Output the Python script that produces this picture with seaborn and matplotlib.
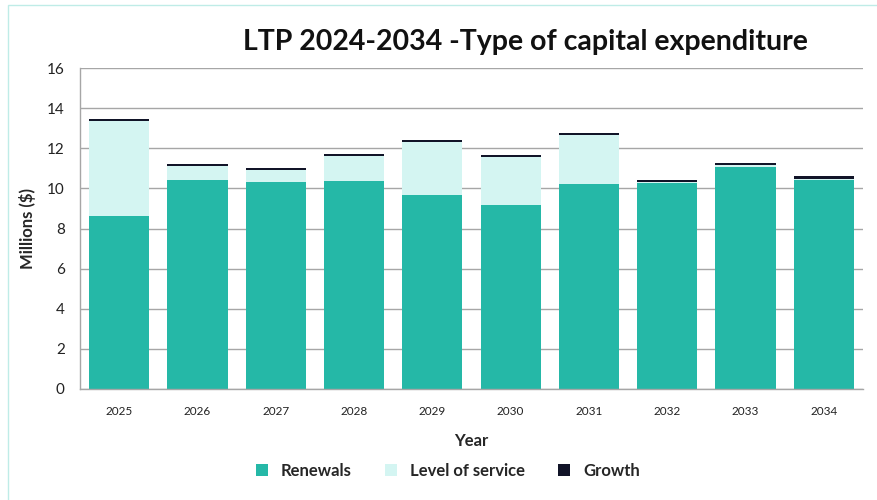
import numpy as np
import pandas as pd
import matplotlib
matplotlib.use("Agg")
import matplotlib.pyplot as plt
from matplotlib.patches import Rectangle, Patch
import seaborn as sns

years = ["2025", "2026", "2027", "2028", "2029", "2030", "2031", "2032", "2033", "2034"]
renewals = [8.64, 10.42, 10.34, 10.37, 9.69, 9.16, 10.23, 10.25, 11.05, 10.42]
level_of_service = [4.74, 0.72, 0.59, 1.25, 2.64, 2.39, 2.45, 0.07, 0.10, 0.07]
growth = [0.07, 0.08, 0.09, 0.09, 0.08, 0.10, 0.10, 0.11, 0.13, 0.13]

series_names = ["Renewals", "Level of service", "Growth"]
series_colors = ["#25B8A7", "#D4F5F2", "#111428"]

df = pd.DataFrame({
    "Year": years,
    "Renewals": renewals,
    "Level of service": level_of_service,
    "Growth": growth,
})
# cumulative heights for stacking (draw tallest first, then overlay)
df["cum_los"] = df["Renewals"] + df["Level of service"]
df["cum_growth"] = df["cum_los"] + df["Growth"]

sns.set_style("white")
plt.rcParams["font.family"] = ["Lato", "DejaVu Sans"]

fig = plt.figure(figsize=(8.78, 5.0), dpi=100)
ax = fig.add_axes([80 / 878, 111 / 500, 783 / 878, 321 / 500])

bar_w = 0.77
layers = [("cum_growth", series_colors[2]),
          ("cum_los", series_colors[1]),
          ("Renewals", series_colors[0])]
for col, color in layers:
    sns.barplot(data=df, x="Year", y=col, color=color, width=bar_w,
                saturation=1, ax=ax, zorder=3, edgecolor="none", linewidth=0)

ax.set_ylim(0, 16)
ax.set_xlim(-0.5, len(years) - 0.5)
ax.set_yticks(np.arange(0, 17, 2))
ax.yaxis.grid(True, color="#A6A6A6", linewidth=1.0, zorder=0)
ax.xaxis.grid(False)
ax.set_axisbelow(True)

for side in ["top", "right"]:
    ax.spines[side].set_visible(False)
for side in ["left", "bottom"]:
    ax.spines[side].set_color("#A6A6A6")
    ax.spines[side].set_linewidth(1.0)
    ax.spines[side].set_zorder(4)

ax.tick_params(axis="y", which="major", length=5, width=1, color="#A6A6A6",
               labelsize=11, labelcolor="#222222", pad=6)
ax.tick_params(axis="x", which="major", length=0, labelsize=8.5,
               labelcolor="#222222", pad=12)
ax.set_xticks(np.arange(-0.5, len(years), 1.0), minor=True)
ax.tick_params(axis="x", which="minor", length=5, width=1, color="#A6A6A6")

ax.set_xlabel("Year", fontsize=12, fontweight="bold", labelpad=12)
ax.set_ylabel("Millions ($)", fontsize=12, fontweight="bold", labelpad=8)

fig.text(525 / 878, 1 - 42 / 500, "LTP 2024-2034 -Type of capital expenditure",
         ha="center", va="center", fontsize=20.5, fontweight="bold", color="#111111")

handles = [Patch(facecolor=c, edgecolor="none", label=n)
           for n, c in zip(series_names, series_colors)]
fig.legend(handles=handles, loc="center", bbox_to_anchor=(448 / 878, 1 - 471 / 500),
           ncol=3, frameon=False, prop={"size": 12, "weight": "bold"},
           handlelength=0.7, handleheight=0.7, columnspacing=2.0, handletextpad=0.8)

# chart frame
fig.patches.append(Rectangle((8 / 878, -0.2), 1.2, 1.2 - 5 / 500, transform=fig.transFigure,
                             fill=False, edgecolor="#BFECE7", linewidth=1.0))

fig.savefig("out.png", dpi=100)
